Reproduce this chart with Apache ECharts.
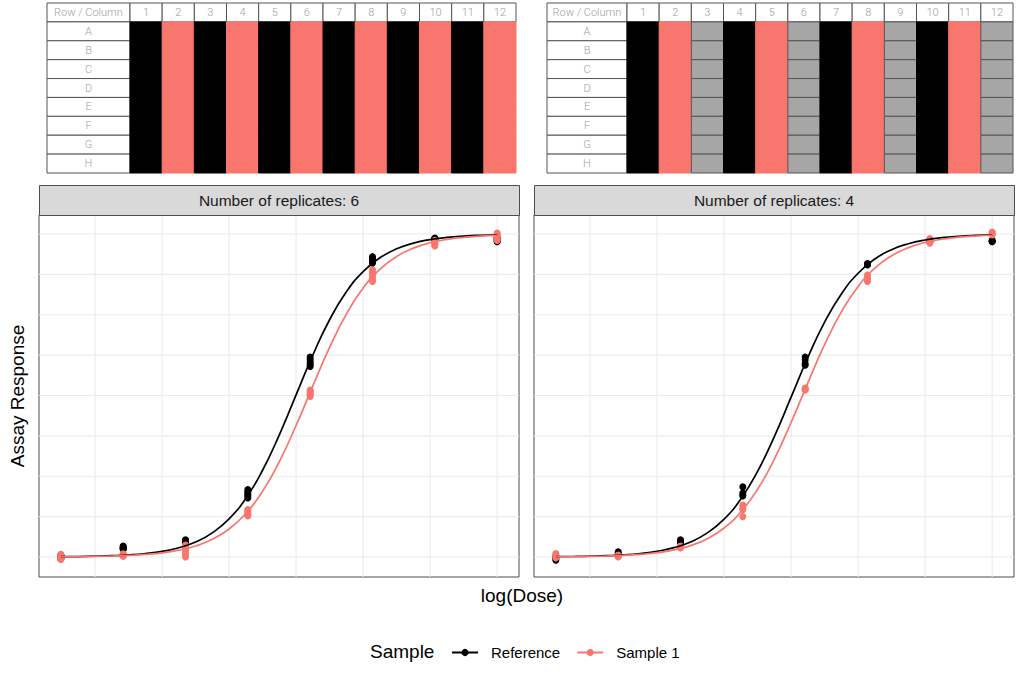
<!DOCTYPE html>
<html>
<head>
<meta charset="utf-8">
<style type="text/css">
body { margin: 0; background: #fff; }
#main { width: 1024px; height: 687px; }
</style>
<script type="text/javascript" src="https://cdn.jsdelivr.net/npm/echarts@6/dist/echarts.min.js"></script>
</head>
<body>
<div id="main"></div>
<script type="text/javascript">
// plate layouts (one entry per plate column)
var plateCols = ['1', '2', '3', '4', '5', '6', '7', '8', '9', '10', '11', '12'];
var plateRows = ['A', 'B', 'C', 'D', 'E', 'F', 'G', 'H'];
var layout6 = ['Reference', 'Sample 1', 'Reference', 'Sample 1', 'Reference', 'Sample 1',
	'Reference', 'Sample 1', 'Reference', 'Sample 1', 'Reference', 'Sample 1'];
var layout4 = ['Reference', 'Sample 1', 'Empty', 'Reference', 'Sample 1', 'Empty',
	'Reference', 'Sample 1', 'Empty', 'Reference', 'Sample 1', 'Empty'];

// dose levels and replicate responses
var logDose = [0.49, 1.42, 2.35, 3.28, 4.21, 5.14, 6.07, 7.00];
var ref6 = [
	[0.004, 0.000, -0.003, 0.002, -0.006, 0.006],
	[0.034, 0.032, 0.030, 0.027, 0.025, 0.024],
	[0.053, 0.051, 0.049, 0.047, 0.045, 0.044],
	[0.209, 0.203, 0.198, 0.193, 0.188, 0.183],
	[0.619, 0.612, 0.606, 0.600, 0.595, 0.590],
	[0.930, 0.926, 0.921, 0.917, 0.913, 0.910],
	[0.988, 0.986, 0.985, 0.983, 0.981, 0.980],
	[0.990, 0.987, 0.984, 0.981, 0.978, 0.976]
];
var s1x6 = [
	[0.008, 0.005, 0.002, -0.002, -0.005, -0.008],
	[0.010, 0.008, 0.006, 0.005, 0.003, 0.002],
	[0.037, 0.030, 0.022, 0.015, 0.006, 0.000],
	[0.147, 0.143, 0.139, 0.135, 0.131, 0.127],
	[0.517, 0.513, 0.509, 0.505, 0.501, 0.497],
	[0.889, 0.881, 0.874, 0.867, 0.860, 0.853],
	[0.981, 0.978, 0.974, 0.970, 0.966, 0.963],
	[1.003, 0.999, 0.994, 0.990, 0.985, 0.980]
];
var ref4 = [
	[-0.010, -0.006, -0.002, 0.002],
	[0.016, 0.012, 0.008, 0.005],
	[0.053, 0.050, 0.047, 0.045],
	[0.217, 0.198, 0.192, 0.189],
	[0.619, 0.610, 0.598, 0.594],
	[0.909, 0.907, 0.906, 0.904],
	[0.982, 0.979, 0.977, 0.975],
	[0.981, 0.979, 0.977, 0.976]
];
var s1x4 = [
	[0.011, 0.006, 0.001, -0.003],
	[0.006, 0.004, 0.002, 0.000],
	[0.034, 0.032, 0.030, 0.028],
	[0.161, 0.152, 0.146, 0.125],
	[0.523, 0.520, 0.518, 0.517],
	[0.873, 0.866, 0.860, 0.853],
	[0.986, 0.981, 0.976, 0.972],
	[1.006, 1.003, 1.000, 0.997]
];

// fitted curves
var curveX = [0.5, 0.75, 1, 1.25, 1.5, 1.75, 2, 2.25, 2.5, 2.75, 3, 3.25, 3.5, 3.75, 4,
	4.25, 4.5, 4.75, 5, 5.25, 5.5, 5.75, 6, 6.25, 6.5, 6.75, 7];
var refFit6 = [0.0009, 0.0014, 0.0024, 0.0039, 0.0064, 0.0106, 0.0174, 0.0286, 0.0464, 0.0747,
	0.1179, 0.1814, 0.2686, 0.3783, 0.502, 0.6255, 0.7346, 0.821, 0.8837, 0.9264,
	0.9543, 0.9719, 0.9829, 0.9896, 0.9937, 0.9962, 0.9977];
var s1Fit6 = [0.0007, 0.0011, 0.0018, 0.003, 0.0048, 0.0079, 0.0129, 0.021, 0.034, 0.0547,
	0.0866, 0.1346, 0.2032, 0.295, 0.4071, 0.5297, 0.6489, 0.752, 0.8326, 0.8908,
	0.9305, 0.9564, 0.973, 0.9834, 0.9898, 0.9937, 0.9962];
var refFit4 = [0.0009, 0.0015, 0.0024, 0.004, 0.0066, 0.0108, 0.0176, 0.0288, 0.0465, 0.0745,
	0.1171, 0.1795, 0.265, 0.3729, 0.495, 0.6177, 0.7271, 0.8146, 0.8787, 0.9228,
	0.9517, 0.9701, 0.9817, 0.9888, 0.9932, 0.9958, 0.9975];
var s1Fit4 = [0.0007, 0.0011, 0.0019, 0.0031, 0.005, 0.0082, 0.0132, 0.0218, 0.0353, 0.0567,
	0.0897, 0.1392, 0.2097, 0.3032, 0.4165, 0.5394, 0.6577, 0.7591, 0.8379, 0.8945,
	0.9329, 0.958, 0.974, 0.984, 0.9902, 0.994, 0.9963];

var xGrid = [1, 2, 3, 4, 5, 6, 7];
var yGrid = [0, 0.125, 0.25, 0.375, 0.5, 0.625, 0.75, 0.875, 1];
var facets = ['Number of replicates: 6', 'Number of replicates: 4'];

var clr = { 'Reference': '#000000', 'Sample 1': '#F8766D', 'Empty': '#a6a6a6' };
var FONT = '"Liberation Sans", Arial, sans-serif';

function labelCells() {
	var out = [{ value: [0, 0], fill: '#fff', stroke: '#555', text: 'Row / Column' }];
	plateRows.forEach(function (r, j) {
		out.push({ value: [0, j + 1], fill: '#fff', stroke: '#555', text: r });
	});
	return out;
}

function plateCells(layout) {
	var out = [];
	plateCols.forEach(function (c, i) {
		out.push({ value: [i, 0], fill: '#fff', stroke: '#555', text: c });
		plateRows.forEach(function (r, j) {
			var t = layout[i];
			out.push({ value: [i, j + 1], fill: clr[t], stroke: t == 'Empty' ? '#555' : clr[t], text: '' });
		});
	});
	return out;
}

function cellItem(cells) {
	return function (params, api) {
		var d = cells[params.dataIndex];
		var p = api.coord([api.value(0), api.value(1)]);
		var s = api.size([1, 1]);
		var kids = [{
			type: 'rect',
			shape: { x: p[0] - s[0] / 2, y: p[1] - s[1] / 2, width: s[0], height: s[1] },
			style: { fill: d.fill, stroke: d.stroke, lineWidth: 1 }
		}];
		if (d.text) {
			kids.push({
				type: 'text', x: p[0], y: p[1],
				style: { text: d.text, fill: '#a0a0a0', font: '300 11px Roboto', align: 'center', verticalAlign: 'middle' }
			});
		}
		return { type: 'group', children: kids };
	};
}

function gridItem(params, api) {
	var cs = params.coordSys, k = api.value(0), v = api.value(1), sh;
	if (k === 0) {
		var x = api.coord([v, 0])[0];
		sh = { x1: x, y1: cs.y, x2: x, y2: cs.y + cs.height };
	} else {
		var y = api.coord([1, v])[1];
		sh = { x1: cs.x, y1: y, x2: cs.x + cs.width, y2: y };
	}
	return { type: 'line', shape: sh, style: { stroke: '#ebebeb', lineWidth: 1.1 } };
}

function pts(reps) {
	var out = [];
	reps.forEach(function (r, i) {
		r.forEach(function (v) { out.push([logDose[i], v]); });
	});
	return out;
}

function fit(ys) {
	return curveX.map(function (x, i) { return [x, ys[i]]; });
}

var tables = [labelCells(), plateCells(layout6), labelCells(), plateCells(layout4)];
var gridLines = xGrid.map(function (v) { return [0, v]; })
	.concat(yGrid.map(function (v) { return [1, v]; }));

var grids = [
	{ left: 47, top: 3, width: 83, height: 170 },
	{ left: 130, top: 3, width: 386, height: 170 },
	{ left: 547, top: 3, width: 80, height: 170 },
	{ left: 627, top: 3, width: 386, height: 170 },
	{ left: 39, top: 215, width: 480, height: 362, show: true, borderColor: '#4d4d4d', borderWidth: 1, backgroundColor: '#fff' },
	{ left: 534, top: 215, width: 480, height: 362, show: true, borderColor: '#4d4d4d', borderWidth: 1, backgroundColor: '#fff' }
];

var xAxes = [], yAxes = [], series = [];
tables.forEach(function (cells, i) {
	xAxes.push({ type: 'category', gridIndex: i, show: false, data: i % 2 ? plateCols : ['Row / Column'] });
	yAxes.push({ type: 'category', gridIndex: i, show: false, inverse: true, data: ['Row / Column'].concat(plateRows) });
	series.push({
		type: 'custom', xAxisIndex: i, yAxisIndex: i, silent: true,
		renderItem: cellItem(cells), data: cells
	});
});

[4, 5].forEach(function (g) {
	xAxes.push({ type: 'value', gridIndex: g, min: 0.164, max: 7.326, show: false });
	yAxes.push({
		type: 'value', gridIndex: g, min: -0.062, max: 1.059,
		name: g == 4 ? 'Assay Response' : '', nameLocation: 'middle', nameGap: 12,
		nameTextStyle: { fontSize: 19, color: '#000', fontFamily: FONT },
		axisLine: { show: false }, axisTick: { show: false }, axisLabel: { show: false }, splitLine: { show: false }
	});
	series.push({
		type: 'custom', xAxisIndex: g, yAxisIndex: g, silent: true, z: 1,
		renderItem: gridItem, data: gridLines
	});
});

var panels = [
	{ g: 4, ref: ref6, s1: s1x6, refFit: refFit6, s1Fit: s1Fit6 },
	{ g: 5, ref: ref4, s1: s1x4, refFit: refFit4, s1Fit: s1Fit4 }
];
panels.forEach(function (p) {
	series.push({
		name: 'Reference', type: 'line', xAxisIndex: p.g, yAxisIndex: p.g, z: 4,
		data: fit(p.refFit), smooth: true, symbol: 'circle', symbolSize: 7, showSymbol: false,
		itemStyle: { color: clr['Reference'] }, lineStyle: { color: clr['Reference'], width: 1.7 }
	});
	series.push({
		name: 'Sample 1', type: 'line', xAxisIndex: p.g, yAxisIndex: p.g, z: 5,
		data: fit(p.s1Fit), smooth: true, symbol: 'circle', symbolSize: 7, showSymbol: false,
		itemStyle: { color: clr['Sample 1'] }, lineStyle: { color: clr['Sample 1'], width: 1.7 }
	});
	series.push({
		name: 'Reference', type: 'scatter', xAxisIndex: p.g, yAxisIndex: p.g, z: 2,
		data: pts(p.ref), symbolSize: 7, itemStyle: { color: clr['Reference'], opacity: 1 }
	});
	series.push({
		name: 'Sample 1', type: 'scatter', xAxisIndex: p.g, yAxisIndex: p.g, z: 3,
		data: pts(p.s1), symbolSize: 7, itemStyle: { color: clr['Sample 1'], opacity: 1 }
	});
});

var graphics = [];
[279, 774].forEach(function (x, i) {
	graphics.push({
		type: 'rect', left: x - 240, top: 185, z: 10,
		shape: { width: 480, height: 30 },
		style: { fill: '#d9d9d9', stroke: '#4d4d4d', lineWidth: 1 }
	});
	graphics.push({
		type: 'text', x: x, y: 200.5, z: 11,
		style: { text: facets[i], align: 'center', verticalAlign: 'middle', fill: '#1a1a1a', font: '15.5px ' + FONT }
	});
});
graphics.push({
	type: 'text', x: 522, y: 595,
	style: { text: 'log(Dose)', align: 'center', verticalAlign: 'middle', fill: '#000', font: '19px ' + FONT }
});
graphics.push({
	type: 'text', x: 370, y: 651,
	style: { text: 'Sample', verticalAlign: 'middle', fill: '#000', font: '19px ' + FONT }
});

var chart = echarts.init(document.getElementById('main'), null, { renderer: 'svg' });
chart.setOption({
	animation: false,
	backgroundColor: '#fff',
	textStyle: { fontFamily: FONT },
	grid: grids,
	xAxis: xAxes,
	yAxis: yAxes,
	legend: {
		data: ['Reference', 'Sample 1'],
		left: 446, top: 640,
		itemWidth: 26, itemHeight: 9, itemGap: 16,
		textStyle: { fontSize: 15, color: '#000', fontFamily: FONT, padding: [0, 0, 0, 8] }
	},
	graphic: graphics,
	series: series
});
</script>
</body>
</html>
